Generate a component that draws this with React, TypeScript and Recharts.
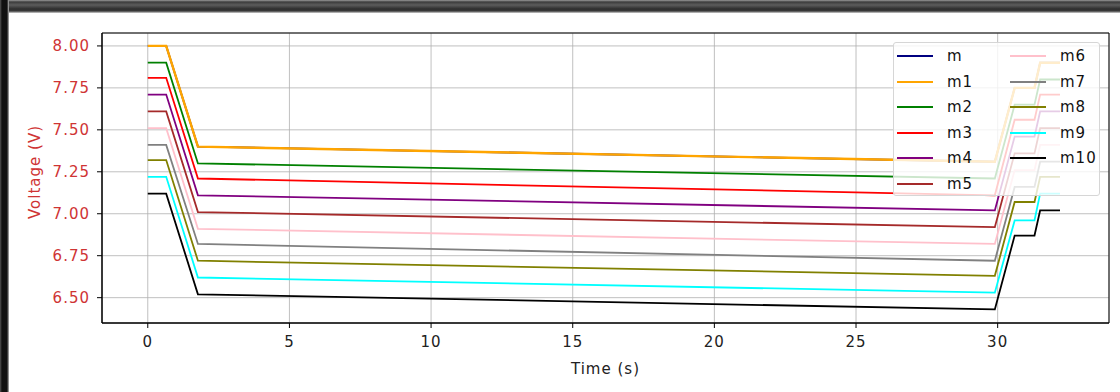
import { LineChart, Line, XAxis, YAxis, CartesianGrid, Legend, ReferenceArea, Label } from 'recharts';

const time = [0, 0.65, 1.77, 29.9, 30.6, 31.3, 31.5, 32.2];

const m = [8.0, 8.0, 7.4, 7.31, 7.75, 7.75, 7.9, 7.9];
const m1 = [8.0, 8.0, 7.4, 7.31, 7.75, 7.75, 7.9, 7.9];
const m2 = [7.9, 7.9, 7.3, 7.21, 7.65, 7.65, 7.8, 7.8];
const m3 = [7.81, 7.81, 7.21, 7.11, 7.56, 7.56, 7.71, 7.71];
const m4 = [7.71, 7.71, 7.11, 7.02, 7.46, 7.46, 7.61, 7.61];
const m5 = [7.61, 7.61, 7.01, 6.92, 7.36, 7.36, 7.51, 7.51];
const m6 = [7.51, 7.51, 6.91, 6.82, 7.26, 7.26, 7.41, 7.41];
const m7 = [7.41, 7.41, 6.82, 6.72, 7.16, 7.16, 7.31, 7.31];
const m8 = [7.32, 7.32, 6.72, 6.63, 7.07, 7.07, 7.22, 7.22];
const m9 = [7.22, 7.22, 6.62, 6.53, 6.96, 6.96, 7.12, 7.12];
const m10 = [7.12, 7.12, 6.52, 6.43, 6.87, 6.87, 7.02, 7.02];

const names = ['m', 'm1', 'm2', 'm3', 'm4', 'm5', 'm6', 'm7', 'm8', 'm9', 'm10'];
const colors = ['#000080', '#ffa500', '#008000', '#ff0000', '#800080', '#a52a2a', '#ffc0cb', '#808080', '#808000', '#00ffff', '#000000'];
const values = [m, m1, m2, m3, m4, m5, m6, m7, m8, m9, m10];

const xTicks = [0, 5, 10, 15, 20, 25, 30];
const yTicks = [6.5, 6.75, 7.0, 7.25, 7.5, 7.75, 8.0];
const xDomain = [-1.616, 33.93];
const yDomain = [6.349, 8.077];

const rows = time.map((t, i) => {
  const row: any = { t };
  names.forEach((n, k) => { row[n] = values[k][i]; });
  return row;
});

const font = '"DejaVu Sans", sans-serif';
const red = '#cf3434';
const txt = { fontSize: 15, fontFamily: font, letterSpacing: 1 };

// legend in matplotlib column order (ncol=2), not recharts' sorted order
const LegendBox = ({ payload }: any) => {
  const items = [...(payload || [])].sort((a: any, b: any) => names.indexOf(a.value) - names.indexOf(b.value));
  return (
    <div style={{
      position: 'relative', width: 207, height: 154, boxSizing: 'border-box',
      background: 'rgba(255,255,255,0.8)', border: '1px solid #d6d6d6', borderRadius: 3,
      fontFamily: font, fontSize: 15, letterSpacing: 1, color: '#111'
    }}>
      {items.map((p: any, i: number) => {
        const col = i < 6 ? 0 : 1;
        const row = i < 6 ? i : i - 6;
        return (
          <div key={p.value} style={{
            position: 'absolute', left: 3 + col * 113, top: Math.round(4 + row * 25.6),
            height: 18, display: 'flex', alignItems: 'center', whiteSpace: 'nowrap'
          }}>
            <span style={{ display: 'inline-block', width: 36, height: 2, background: p.color }} />
            <span style={{ marginLeft: 14, lineHeight: '18px' }}>{p.value}</span>
          </div>
        );
      })}
    </div>
  );
};

const YLabel = ({ viewBox }: any) => {
  const cx = 35;
  const cy = viewBox.y + viewBox.height / 2 - 6;
  return (
    <text x={cx} y={cy} transform={`rotate(-90 ${cx} ${cy})`} textAnchor="middle"
      dominantBaseline="central" fill={red} {...txt}>
      Voltage (V)
    </text>
  );
};

const App = () => (
  <div style={{ position: 'absolute', left: 0, top: 0, width: 1120, height: 392, background: '#fff', overflow: 'hidden' }}>
    <LineChart width={1120} height={392} data={rows} margin={{ top: 33, right: 11, bottom: 0, left: 0 }}>
      <CartesianGrid stroke="#b0b0b0" strokeWidth={0.8} />
      <XAxis dataKey="t" type="number" domain={xDomain} ticks={xTicks} interval={0} allowDataOverflow
        height={69} tickSize={5} tickMargin={8}
        tick={{ fill: '#222', ...txt }}
        axisLine={{ stroke: '#000' }} tickLine={{ stroke: '#000' }}>
        <Label value="Time (s)" position="insideBottom" offset={18} fill="#222" {...txt} />
      </XAxis>
      <YAxis type="number" domain={yDomain} ticks={yTicks} interval={0} allowDataOverflow
        width={102} tickSize={5} tickMargin={7}
        tickFormatter={(v: number) => v.toFixed(2)}
        tick={{ fill: red, ...txt }}
        axisLine={{ stroke: '#000' }} tickLine={{ stroke: '#000' }}>
        <Label content={<YLabel />} />
      </YAxis>
      <ReferenceArea x1={xDomain[0]} x2={xDomain[1]} y1={yDomain[0]} y2={yDomain[1]}
        fill="none" stroke="#000" strokeWidth={1} ifOverflow="visible" />
      {names.map((n, k) => (
        <Line key={n} type="linear" dataKey={n} stroke={colors[k]} strokeWidth={n === 'm1' ? 2.4 : 1.8}
          dot={false} activeDot={false} isAnimationActive={false} />
      ))}
      <Legend layout="horizontal" verticalAlign="middle" align="center" content={<LegendBox />}
        wrapperStyle={{ top: 42, left: 893, width: 207, height: 154 }} />
    </LineChart>
    <div style={{
      position: 'absolute', left: 0, top: 0, width: 1120, height: 13,
      background: 'linear-gradient(#9a9a9a 0px, #3c3c3c 2px, #5c5c5c 5px, #2e2e2e 9px, #3a3a3a 11px, #8a8a8a 12px, #cfcfcf 13px)'
    }} />
    <div style={{
      position: 'absolute', left: 0, top: 0, width: 9, height: 392,
      background: 'linear-gradient(90deg, #555 0px, #111 2px, #111 7px, #666 8px, #bbb 9px)'
    }} />
  </div>
);

export default App;
